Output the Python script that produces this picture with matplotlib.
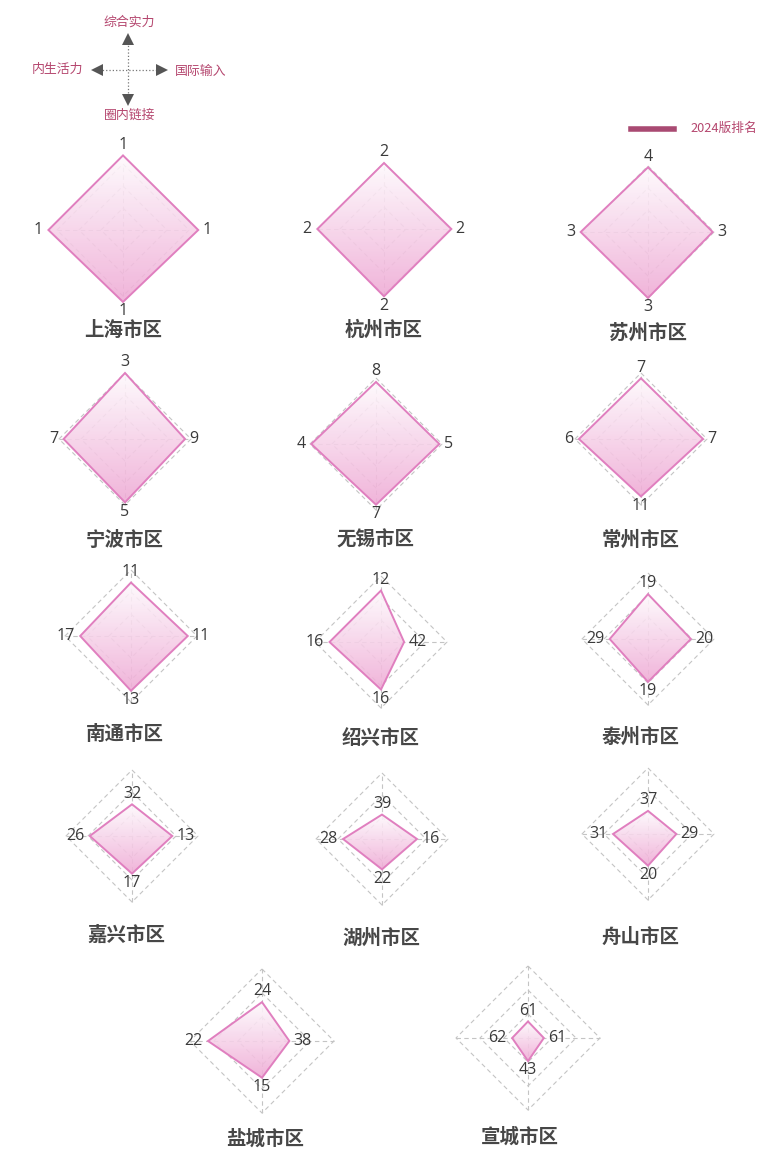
import numpy as np
import matplotlib
matplotlib.use('Agg')
import matplotlib.pyplot as plt
from matplotlib.patches import Polygon
from matplotlib.colors import LinearSegmentedColormap

plt.rcParams['font.family'] = ['Noto Sans CJK SC', 'DejaVu Sans']

# data: 4 axes per city, order = top, right, bottom, left
dims = ['综合实力', '国际输入', '圈内链接', '内生活力']
cities = ['上海市区', '杭州市区', '苏州市区', '宁波市区', '无锡市区', '常州市区', '南通市区',
          '绍兴市区', '泰州市区', '嘉兴市区', '湖州市区', '舟山市区', '盐城市区', '宣城市区']
# rank labels (2024版排名)
rank_top = [1, 2, 4, 3, 8, 7, 11, 12, 19, 32, 39, 37, 24, 61]
rank_right = [1, 2, 3, 9, 5, 7, 11, 42, 20, 13, 16, 29, 38, 61]
rank_bottom = [1, 2, 3, 5, 7, 11, 13, 16, 19, 17, 22, 20, 15, 43]
rank_left = [1, 2, 3, 7, 4, 6, 17, 16, 29, 26, 28, 31, 22, 62]
# plotted scores (outer ring = 100)
score_top = [113, 100, 98, 100, 94, 92, 81, 78, 68, 48, 37, 35, 54, 23]
score_right = [114, 102, 98, 91, 96, 94, 86, 35, 65, 61, 53, 43, 38, 22]
score_bottom = [109, 102, 100, 96, 92, 87, 83, 72, 65, 57, 46, 48, 51, 32]
score_left = [113, 101, 102, 93, 98, 94, 77, 78, 58, 64, 59, 53, 75, 22]

# layout in pixels
W, H = 768, 1160
centers = [(123, 230), (384, 229), (648, 232),
           (125, 439), (376, 444), (641, 439),
           (131, 636), (381, 642), (648, 639),
           (132, 836), (382, 839), (648, 834),
           (262, 1041), (528, 1038)]
title_pos = [(123, 330), (384, 330), (648, 333),
             (125, 540), (375, 540), (641, 540),
             (125, 735), (381, 739), (641, 737),
             (126, 935), (381, 938), (641, 937),
             (265, 1139), (520, 1137)]
radius_px = [66] * 12 + [72, 72]

rose = '#b5476f'
edge = '#e07fbf'
grid_c = '#c4c4c4'
cmap = LinearSegmentedColormap.from_list('pk', ['#fefafd', '#efaad5'])

fig = plt.figure(figsize=(W / 100, H / 100), dpi=100)

# background axes in pixel coordinates for titles and legends
bg = fig.add_axes([0, 0, 1, 1])
bg.set_xlim(0, W)
bg.set_ylim(H, 0)
bg.axis('off')

# direction legend (top left)
cx0, cy0 = 128, 70
bg.plot([cx0, cx0], [42, 97], ls=':', color='#777777', lw=0.9)
bg.plot([99, 158], [cy0, cy0], ls=':', color='#777777', lw=0.9)
bg.plot(cx0, 39, marker='^', ms=9, color='#555555', mew=0)
bg.plot(cx0, 100, marker='v', ms=9, color='#555555', mew=0)
bg.plot(97, cy0, marker='<', ms=9, color='#555555', mew=0)
bg.plot(162, cy0, marker='>', ms=9, color='#555555', mew=0)
bg.text(cx0 + 1, 22, dims[0], ha='center', va='center', fontsize=9.3, color=rose)
bg.text(175, cy0 + 1, dims[1], ha='left', va='center', fontsize=9.3, color=rose)
bg.text(cx0 + 2, 115, dims[2], ha='center', va='center', fontsize=9.3, color=rose)
bg.text(83, cy0 - 1, dims[3], ha='right', va='center', fontsize=9.3, color=rose)

# series legend (top right)
bg.plot([631, 674], [129, 129], color='#a94a72', lw=4)
bg.text(690, 128, '2024版排名', ha='left', va='center', fontsize=9.2, color=rose)

for i, name in enumerate(cities):
    cx, cy = centers[i]
    R = radius_px[i]
    half = 100
    lim = half * 100.0 / R
    ax = fig.add_axes([(cx - half) / W, 1 - (cy + half) / H, 2 * half / W, 2 * half / H])

    # grid rings and spokes
    for k in (1, 2, 3):
        r = 100 * k / 3
        ax.plot([0, r, 0, -r, 0], [r, 0, -r, 0, r], ls=(0, (4, 3)), color=grid_c, lw=0.8, zorder=1)
    ax.plot([0, 0], [-100, 100], ls=(0, (4, 3)), color=grid_c, lw=0.8, zorder=1)
    ax.plot([-100, 100], [0, 0], ls=(0, (4, 3)), color=grid_c, lw=0.8, zorder=1)

    t, rt, b, l = score_top[i], score_right[i], score_bottom[i], score_left[i]
    pts = np.array([(0, t), (rt, 0), (0, -b), (-l, 0)])
    grad = np.linspace(0, 1, 256).reshape(-1, 1)
    im = ax.imshow(grad, extent=[-l, rt, -b, t], origin='upper', cmap=cmap,
                   aspect='auto', alpha=0.88, zorder=2)
    clip = Polygon(pts, closed=True, transform=ax.transData)
    im.set_clip_path(clip)
    ax.add_patch(Polygon(pts, closed=True, fill=False, edgecolor=edge, lw=1.4, zorder=3))

    lab_kw = dict(textcoords='offset points', fontsize=11.5, color='#3a3a3a', zorder=4,
                  family=['Open Sans', 'DejaVu Sans'])
    ax.annotate(str(rank_top[i]), (0, t), xytext=(0, 2), ha='center', va='bottom', **lab_kw)
    ax.annotate(str(rank_right[i]), (rt, 0), xytext=(3, 0), ha='left', va='center', **lab_kw)
    ax.annotate(str(rank_bottom[i]), (0, -b), xytext=(0, -1), ha='center', va='top', **lab_kw)
    ax.annotate(str(rank_left[i]), (-l, 0), xytext=(-4, 0), ha='right', va='center', **lab_kw)

    ax.set_xlim(-lim, lim)
    ax.set_ylim(-lim, lim)
    ax.axis('off')

    tx, ty = title_pos[i]
    bg.text(tx, ty, name, ha='center', va='center', fontsize=14, fontweight='bold', color='#474747')

fig.savefig('out.png', dpi=100)
